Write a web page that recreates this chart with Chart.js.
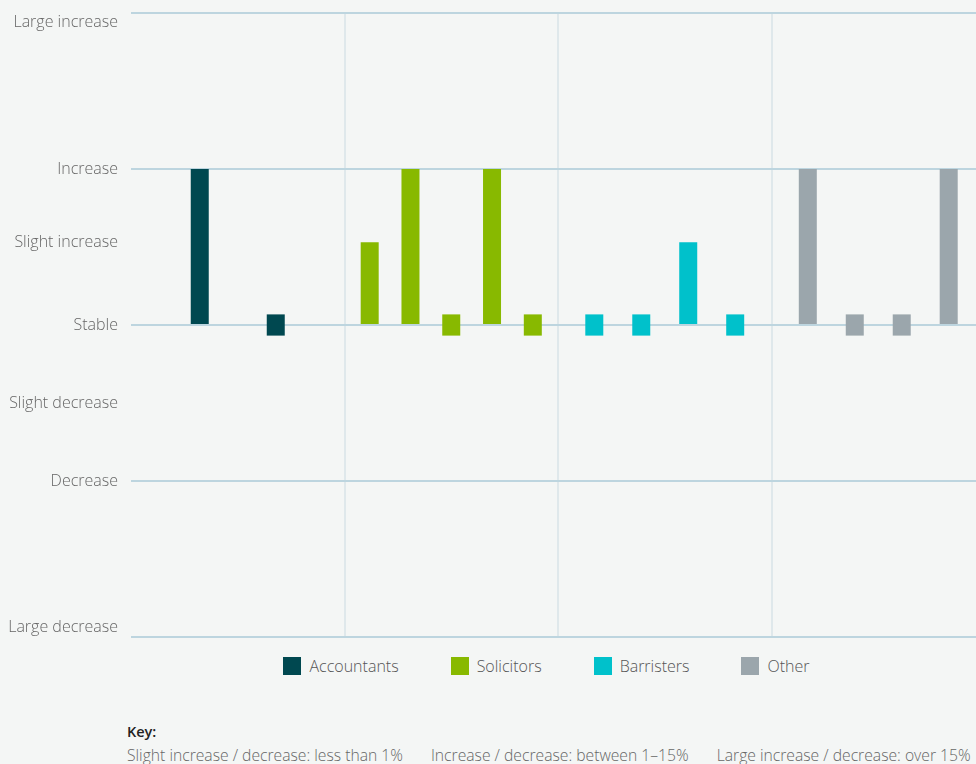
<!DOCTYPE html>
<html>
<head>
<meta charset="utf-8">
<title>Change in demand by profession</title>
<script src="https://cdn.jsdelivr.net/npm/chart.js@4/dist/chart.umd.min.js"></script>
<style>
  html, body { margin: 0; padding: 0; }
  body {
    width: 976px; height: 764px; overflow: hidden; position: relative;
    background: #f4f6f5; font-family: 'Open Sans', 'DejaVu Sans', sans-serif;
  }
  .chart-wrap { position: absolute; left: 0; top: 0; width: 985px; height: 645px; }
  .legend {
    position: absolute; top: 657px; left: 0; width: 1093px; height: 18px;
    display: flex; justify-content: center; gap: 52px;
    font-size: 16px; font-weight: 300; color: #555;
  }
  .legend-item { display: flex; align-items: center; height: 18px; }
  .legend-box { width: 18px; height: 18px; margin-right: 8px; }
  .key { position: absolute; left: 127px; top: 721px; color: #666; font-size: 15.7px; font-weight: 300; white-space: nowrap; }
  .key-title { font-weight: 600; color: #222; font-size: 14.5px; line-height: 22px; }
  .key-line { line-height: 24px; }
  .key-line span { margin-right: 28px; }
</style>
</head>
<body>
<div class="chart-wrap"><canvas id="demand-chart"></canvas></div>
<div class="legend" id="demand-legend"></div>
<div class="key">
  <div class="key-title">Key:</div>
  <div class="key-line">
    <span>Slight increase / decrease: less than 1%</span><span>Increase / decrease: between 1–15%</span><span>Large increase / decrease: over 15%</span>
  </div>
</div>

<script>
/* ---------- DATA ---------- */
const professions = ['Accountants', 'Solicitors', 'Barristers', 'Other'];

const levelNames = ['Large decrease', 'Decrease', 'Slight decrease', 'Stable', 'Slight increase', 'Increase', 'Large increase'];
const levelValues = [-2, -1, -0.5, 0, 0.53, 1, 2];

// one entry per bar, left to right inside each profession
const accountants = ['Increase', 'Stable'];
const solicitors = ['Slight increase', 'Increase', 'Stable', 'Increase', 'Stable'];
const barristers = ['Stable', 'Stable', 'Slight increase', 'Stable'];
const other = ['Increase', 'Stable', 'Stable', 'Increase'];

/* ---------- STYLE ---------- */
const colors = {
  Accountants: '#004850',
  Solicitors: '#88b900',
  Barristers: '#00c1cb',
  Other: '#9ba6ac'
};
// share of each category the bars are spread over
const spread = { Accountants: 0.712, Solicitors: 0.955, Barristers: 0.88, Other: 0.88 };
const STABLE_HALF = 0.068;
const H_GRID = '#bdd5df';
const V_GRID = '#dfe8eb';
const TICK_FONT = { family: "'Open Sans', 'DejaVu Sans', sans-serif", size: 16, weight: 300 };

/* ---------- BUILD DATASETS ---------- */
const responses = [accountants, solicitors, barristers, other];

function levelValue(name) {
  return levelValues[levelNames.indexOf(name)];
}

function toBar(name) {
  if (name === 'Stable') return [-STABLE_HALF, STABLE_HALF];
  return [0, levelValue(name)];
}

const datasets = [];
responses.forEach((levels, gi) => {
  const group = professions[gi];
  levels.forEach(level => {
    datasets.push({
      label: group,
      data: professions.map((_, i) => (i === gi ? toBar(level) : null)),
      backgroundColor: colors[group],
      categoryPercentage: spread[group],
      barPercentage: 1,
      maxBarThickness: 18,
      skipNull: true
    });
  });
});

/* ---------- CHART ---------- */
const ctx = document.getElementById('demand-chart').getContext('2d');
new Chart(ctx, {
  type: 'bar',
  data: { labels: professions, datasets },
  options: {
    responsive: true,
    maintainAspectRatio: false,
    animation: false,
    layout: { padding: { left: 0, right: 0, top: 13, bottom: 8 } },
    plugins: {
      legend: { display: false },
      tooltip: { enabled: false }
    },
    scales: {
      x: {
        offset: true,
        border: { display: false },
        grid: {
          offset: true,
          drawTicks: false,
          lineWidth: 2,
          color: c => (c.index === 0 ? 'rgba(0,0,0,0)' : V_GRID)
        },
        ticks: { display: false }
      },
      y: {
        min: -2,
        max: 2,
        border: { display: false },
        afterBuildTicks: scale => {
          scale.ticks = levelValues.map(v => ({ value: v }));
        },
        afterFit: scale => {
          scale.width = 131;
          // outer labels are pulled inside, no extra room needed
          scale.paddingTop = 0;
          scale.paddingBottom = 0;
        },
        grid: {
          drawTicks: false,
          lineWidth: 2,
          color: c => (c.tick && Number.isInteger(c.tick.value) ? H_GRID : 'rgba(0,0,0,0)')
        },
        ticks: {
          padding: 13,
          color: '#666',
          font: TICK_FONT,
          callback: value => {
            const name = levelNames[levelValues.indexOf(value)];
            // keep the outer labels inside the plot height
            if (value === levelValues[levelValues.length - 1]) return ['', name];
            if (value === levelValues[0]) return [name, ''];
            return name;
          }
        }
      }
    }
  }
});

/* ---------- LEGEND ---------- */
document.getElementById('demand-legend').innerHTML = professions.map(p => `
  <div class="legend-item">
    <span class="legend-box" style="background:${colors[p]}"></span>
    <span>${p}</span>
  </div>`).join('');
</script>
</body>
</html>
